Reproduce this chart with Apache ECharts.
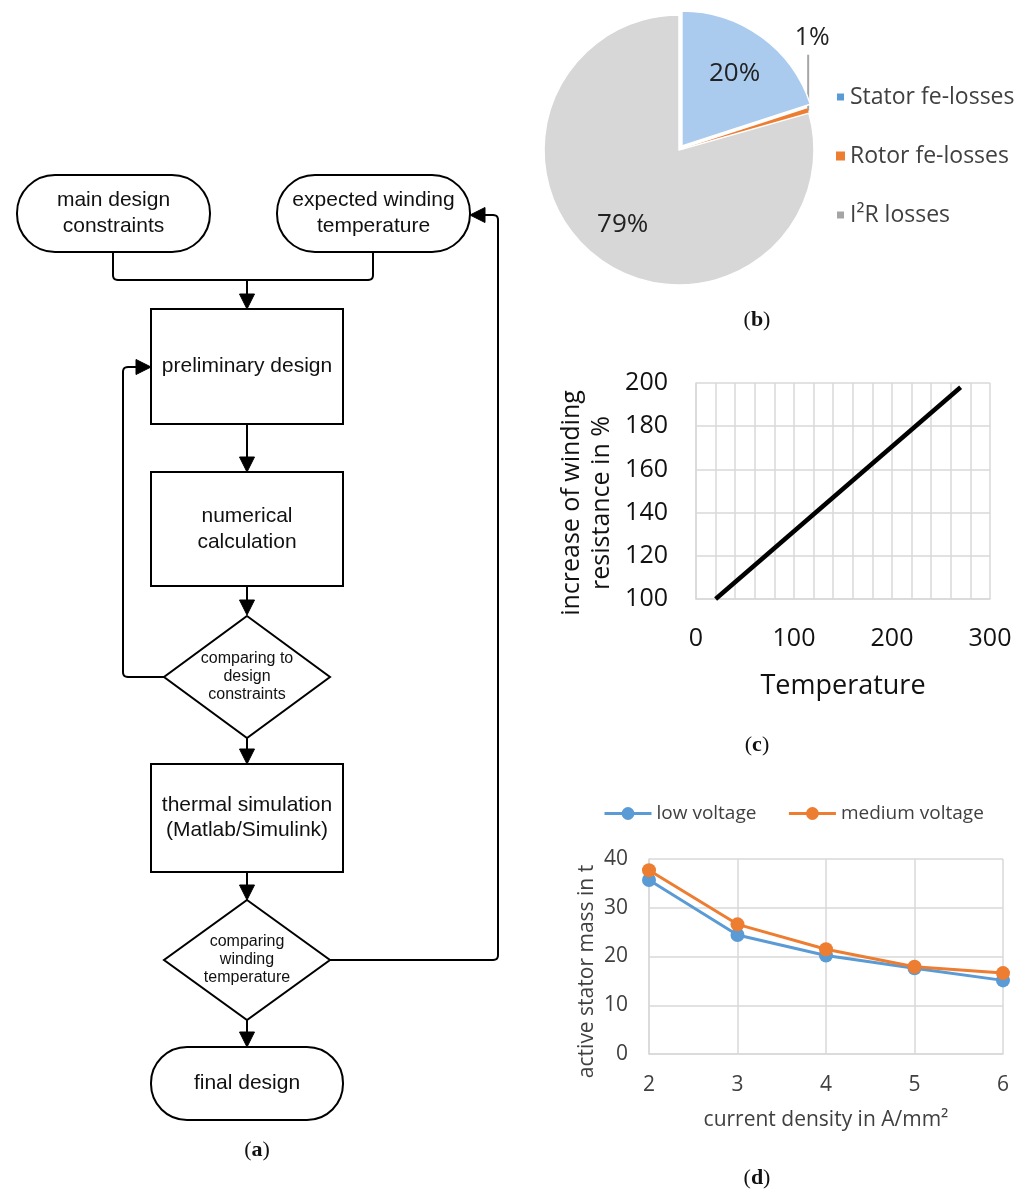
<!DOCTYPE html>
<html><head><meta charset="utf-8">
<script src="https://cdn.jsdelivr.net/npm/echarts@6/dist/echarts.min.js"></script>
<style>html,body{margin:0;padding:0;background:#fff}#main{width:1035px;height:1194px}</style>
</head><body><div id="main"></div>
<script>
// ---------- data ----------
const pieNames = ['Stator fe-losses', 'Rotor fe-losses', 'I\u00b2R losses'];
const pieValues = [20, 0.6, 79.4];
const pieColors = ['#abcbee', '#ed7d31', '#d7d7d7'];
const pieLegendColors = ['#5b9bd5', '#ed7d31', '#a5a5a5'];

const tempX = [20, 270];
const resistanceY = [100, 198];
const tempTickLabels = [0, 100, 200, 300];

const densityCats = ['2', '3', '4', '5', '6'];
const lowVoltage = [35.7, 24.4, 20.2, 17.6, 15.1];
const mediumVoltage = [37.7, 26.6, 21.5, 17.9, 16.6];

const flowTexts = {
  main: 'main design\nconstraints',
  expected: 'expected winding\ntemperature',
  prelim: 'preliminary design',
  numerical: 'numerical\ncalculation',
  cmp1: 'comparing to\ndesign\nconstraints',
  thermal: 'thermal simulation\n(Matlab/Simulink)',
  cmp2: 'comparing\nwinding\ntemperature',
  final: 'final design'
};
const captions = ['a', 'b', 'c', 'd'];

// ---------- flowchart graphics ----------
const FF = '"Liberation Sans", Arial, sans-serif';
const CF = '"Open Sans", sans-serif';
const g = [];
const stroke = {stroke: '#000', lineWidth: 2, fill: '#fff'};
function txt(x, y, t, fs, lh) {
  g.push({type: 'text', z: 10, style: {x: x, y: y, text: t, font: fs + 'px ' + FF, fill: '#111',
    align: 'center', verticalAlign: 'middle', lineHeight: lh}});
}
function box(x, y, w, h, r, t, fs, lh) {
  g.push({type: 'rect', shape: {x: x, y: y, width: w, height: h, r: r}, style: stroke});
  txt(x + w / 2, y + h / 2, t, fs, lh);
}
function diamond(cx, cy, hw, hh, t) {
  g.push({type: 'polygon', shape: {points: [[cx, cy - hh], [cx + hw, cy], [cx, cy + hh], [cx - hw, cy]]}, style: stroke});
  txt(cx, cy, t, 16, 18);
}
// polyline with small rounded corners (corners sampled as quadratic curves)
function line(pts) {
  const R = 5, out = [pts[0]];
  for (let i = 1; i < pts.length; i++) {
    const p = pts[i];
    if (i < pts.length - 1) {
      const a = pts[i - 1], b = pts[i + 1];
      const l1 = Math.hypot(p[0] - a[0], p[1] - a[1]), l2 = Math.hypot(b[0] - p[0], b[1] - p[1]);
      const r = Math.min(R, l1 / 2, l2 / 2);
      const s = [p[0] - (p[0] - a[0]) / l1 * r, p[1] - (p[1] - a[1]) / l1 * r];
      const e = [p[0] + (b[0] - p[0]) / l2 * r, p[1] + (b[1] - p[1]) / l2 * r];
      for (let k = 0; k <= 6; k++) {
        const t = k / 6, u = 1 - t;
        out.push([u * u * s[0] + 2 * u * t * p[0] + t * t * e[0], u * u * s[1] + 2 * u * t * p[1] + t * t * e[1]]);
      }
    } else {
      out.push(p);
    }
  }
  g.push({type: 'polyline', shape: {points: out}, style: {stroke: '#000', lineWidth: 2, fill: null}});
}
function arrow(tx, ty, dir) {
  const L = 15, W = 7.5;
  let pts;
  if (dir === 'down') pts = [[tx, ty], [tx - W, ty - L], [tx + W, ty - L]];
  else if (dir === 'right') pts = [[tx, ty], [tx - L, ty - W], [tx - L, ty + W]];
  else pts = [[tx, ty], [tx + L, ty - W], [tx + L, ty + W]];
  g.push({type: 'polygon', shape: {points: pts}, style: {fill: '#000', stroke: '#000', lineWidth: 1}});
}
const CX = 247;
box(17, 175, 193, 77, 38, flowTexts.main, 21, 26);
box(277, 175, 193, 77, 38, flowTexts.expected, 21, 26);
box(151, 309, 192, 115, 0, flowTexts.prelim, 21, 26);
box(151, 472, 192, 114, 0, flowTexts.numerical, 21, 26);
diamond(CX, 677, 83, 61, flowTexts.cmp1);
box(151, 764, 192, 108, 0, flowTexts.thermal, 21, 25);
diamond(CX, 960, 83, 60, flowTexts.cmp2);
box(151, 1047, 192, 73, 36, flowTexts.final, 21, 26);

line([[113, 252], [113, 280], [373, 280], [373, 252]]);
line([[CX, 280], [CX, 298]]); arrow(CX, 309, 'down');
line([[CX, 424], [CX, 460]]); arrow(CX, 472, 'down');
line([[CX, 586], [CX, 603]]); arrow(CX, 615, 'down');
line([[165, 677], [123, 677], [123, 367], [140, 367]]); arrow(151, 367, 'right');
line([[CX, 738], [CX, 752]]); arrow(CX, 764, 'down');
line([[CX, 872], [CX, 888]]); arrow(CX, 900, 'down');
line([[330, 960], [498, 960], [498, 215], [482, 215]]); arrow(470, 215, 'left');
line([[CX, 1020], [CX, 1035]]); arrow(CX, 1047, 'down');

// captions
const capPos = [[257, 1150], [757, 320], [757, 745], [757, 1178]];
captions.forEach((c, i) => {
  g.push({type: 'text', style: {x: capPos[i][0], y: capPos[i][1], text: '{p|(}{b|' + c + '}{p|)}',
    align: 'center', verticalAlign: 'middle',
    rich: {p: {font: '22px "Liberation Serif", serif', fill: '#111'},
           b: {font: 'bold 22px "Liberation Serif", serif', fill: '#111'}}}});
});

// ---------- chart option ----------
const gridGray = '#d9d9d9';
const option = {
  animation: false,
  backgroundColor: '#fff',
  graphic: g,
  legend: [
    {
      orient: 'vertical', left: 830, top: 79, itemGap: 33, itemWidth: 9, itemHeight: 9, icon: 'rect',
      selectedMode: false,
      textStyle: {fontFamily: CF, fontSize: 23, color: '#404040', lineHeight: 26},
      data: pieNames.map((n, i) => ({name: n, itemStyle: {color: pieLegendColors[i]}}))
    },
    {
      left: 598, top: 799, itemGap: 31, itemWidth: 47, itemHeight: 16, selectedMode: false,
      lineStyle: {width: 3},
      textStyle: {fontFamily: CF, fontSize: 19, color: '#404040'},
      data: ['low voltage', 'medium voltage']
    }
  ],
  grid: [
    {left: 696, top: 383, width: 294, height: 216},
    {left: 649, top: 859, width: 354, height: 195}
  ],
  xAxis: [
    {
      gridIndex: 0, type: 'value', min: 0, max: 300, interval: 20,
      axisLine: {show: true, lineStyle: {color: gridGray, width: 1.5}},
      axisTick: {show: false},
      splitLine: {show: true, lineStyle: {color: gridGray, width: 1.5}},
      axisLabel: {fontFamily: CF, fontSize: 25, color: '#111', margin: 27,
        formatter: v => tempTickLabels.includes(v) ? String(v) : ''},
      name: 'Temperature', nameLocation: 'middle', nameGap: 74,
      nameTextStyle: {fontFamily: CF, fontSize: 27, color: '#111'}
    },
    {
      gridIndex: 1, type: 'category', data: densityCats, boundaryGap: false,
      axisLine: {show: true, lineStyle: {color: gridGray, width: 1.5}},
      axisTick: {show: false},
      splitLine: {show: true, lineStyle: {color: gridGray, width: 1.5}},
      axisLabel: {fontFamily: CF, fontSize: 21, color: '#404040', margin: 21},
      name: 'current density in A/mm\u00b2', nameLocation: 'middle', nameGap: 56,
      nameTextStyle: {fontFamily: CF, fontSize: 21, color: '#404040'}
    }
  ],
  yAxis: [
    {
      gridIndex: 0, type: 'value', min: 100, max: 200, interval: 20,
      axisLine: {show: true, lineStyle: {color: gridGray, width: 1.5}},
      axisTick: {show: false},
      splitLine: {show: true, lineStyle: {color: gridGray, width: 1.5}},
      axisLabel: {fontFamily: CF, fontSize: 25, color: '#111', margin: 28},
      name: 'increase of winding\nresistance in %', nameLocation: 'middle', nameGap: 79, nameRotate: 90,
      nameTextStyle: {fontFamily: CF, fontSize: 25, color: '#111', lineHeight: 30, padding: [0, 24, 0, 0]}
    },
    {
      gridIndex: 1, type: 'value', min: 0, max: 40, interval: 10,
      axisLine: {show: true, lineStyle: {color: gridGray, width: 1.5}},
      axisTick: {show: false},
      splitLine: {show: true, lineStyle: {color: gridGray, width: 1.5}},
      axisLabel: {fontFamily: CF, fontSize: 21, color: '#404040', margin: 21},
      name: 'active stator mass in t', nameLocation: 'middle', nameGap: 51, nameRotate: 90,
      nameTextStyle: {fontFamily: CF, fontSize: 21, color: '#404040', padding: [0, 30, 0, 0]}
    }
  ],
  series: [
    {
      type: 'pie', center: [679, 150], radius: [0, 135], startAngle: 90,
      selectedMode: 'single', selectedOffset: 5, silent: true, percentPrecision: 0,
      itemStyle: {borderColor: '#fff', borderWidth: 1.5},
      label: {show: false}, labelLine: {show: false},
      data: pieNames.map((n, i) => {
        const d = {name: n, value: pieValues[i], itemStyle: {color: pieColors[i]}};
        if (i === 0) d.selected = true;
        if (i === 1) {
          d.itemStyle.borderWidth = 0;
          d.label = {show: true, position: 'outside', formatter: '{d}%', fontFamily: CF, fontSize: 25, color: '#222'};
          d.labelLine = {show: true, length: 10, length2: 10, lineStyle: {color: '#a6a6a6', width: 2}};
        }
        return d;
      }),
      labelLayout: function (p) {
        if (p.dataIndex !== 1 || !p.labelLinePoints) return {};
        const s = p.labelLinePoints[0];
        return {x: s[0] + 4, y: s[1] - 73, align: 'center', verticalAlign: 'middle',
          labelLinePoints: [[s[0], s[1]], [s[0], s[1] - 29], [s[0], s[1] - 56]]};
      }
    },
    {
      type: 'pie', center: [679, 150], radius: [46, 135], startAngle: 90,
      selectedMode: 'single', selectedOffset: 1, silent: true, percentPrecision: 0,
      itemStyle: {color: 'rgba(0,0,0,0)', borderWidth: 0},
      label: {show: true, position: 'inside', formatter: '{d}%', fontFamily: CF, fontSize: 26, color: '#222'},
      labelLine: {show: false},
      data: pieNames.map((n, i) => {
        const d = {name: n, value: pieValues[i]};
        if (i === 0) d.selected = true;
        if (i === 1) d.label = {show: false};
        return d;
      })
    },
    {
      type: 'line', xAxisIndex: 0, yAxisIndex: 0, showSymbol: false, silent: true,
      lineStyle: {color: '#000', width: 4.5}, itemStyle: {color: '#000'},
      data: tempX.map((x, i) => [x, resistanceY[i]])
    },
    {
      name: 'low voltage', type: 'line', xAxisIndex: 1, yAxisIndex: 1,
      symbol: 'circle', symbolSize: 14, color: '#5b9bd5',
      lineStyle: {width: 3}, data: lowVoltage
    },
    {
      name: 'medium voltage', type: 'line', xAxisIndex: 1, yAxisIndex: 1,
      symbol: 'circle', symbolSize: 14, color: '#ed7d31',
      lineStyle: {width: 3}, data: mediumVoltage
    }
  ]
};
const chart = echarts.init(document.getElementById('main'), null, {renderer: 'canvas'});
chart.setOption(option);
</script>
</body></html>
